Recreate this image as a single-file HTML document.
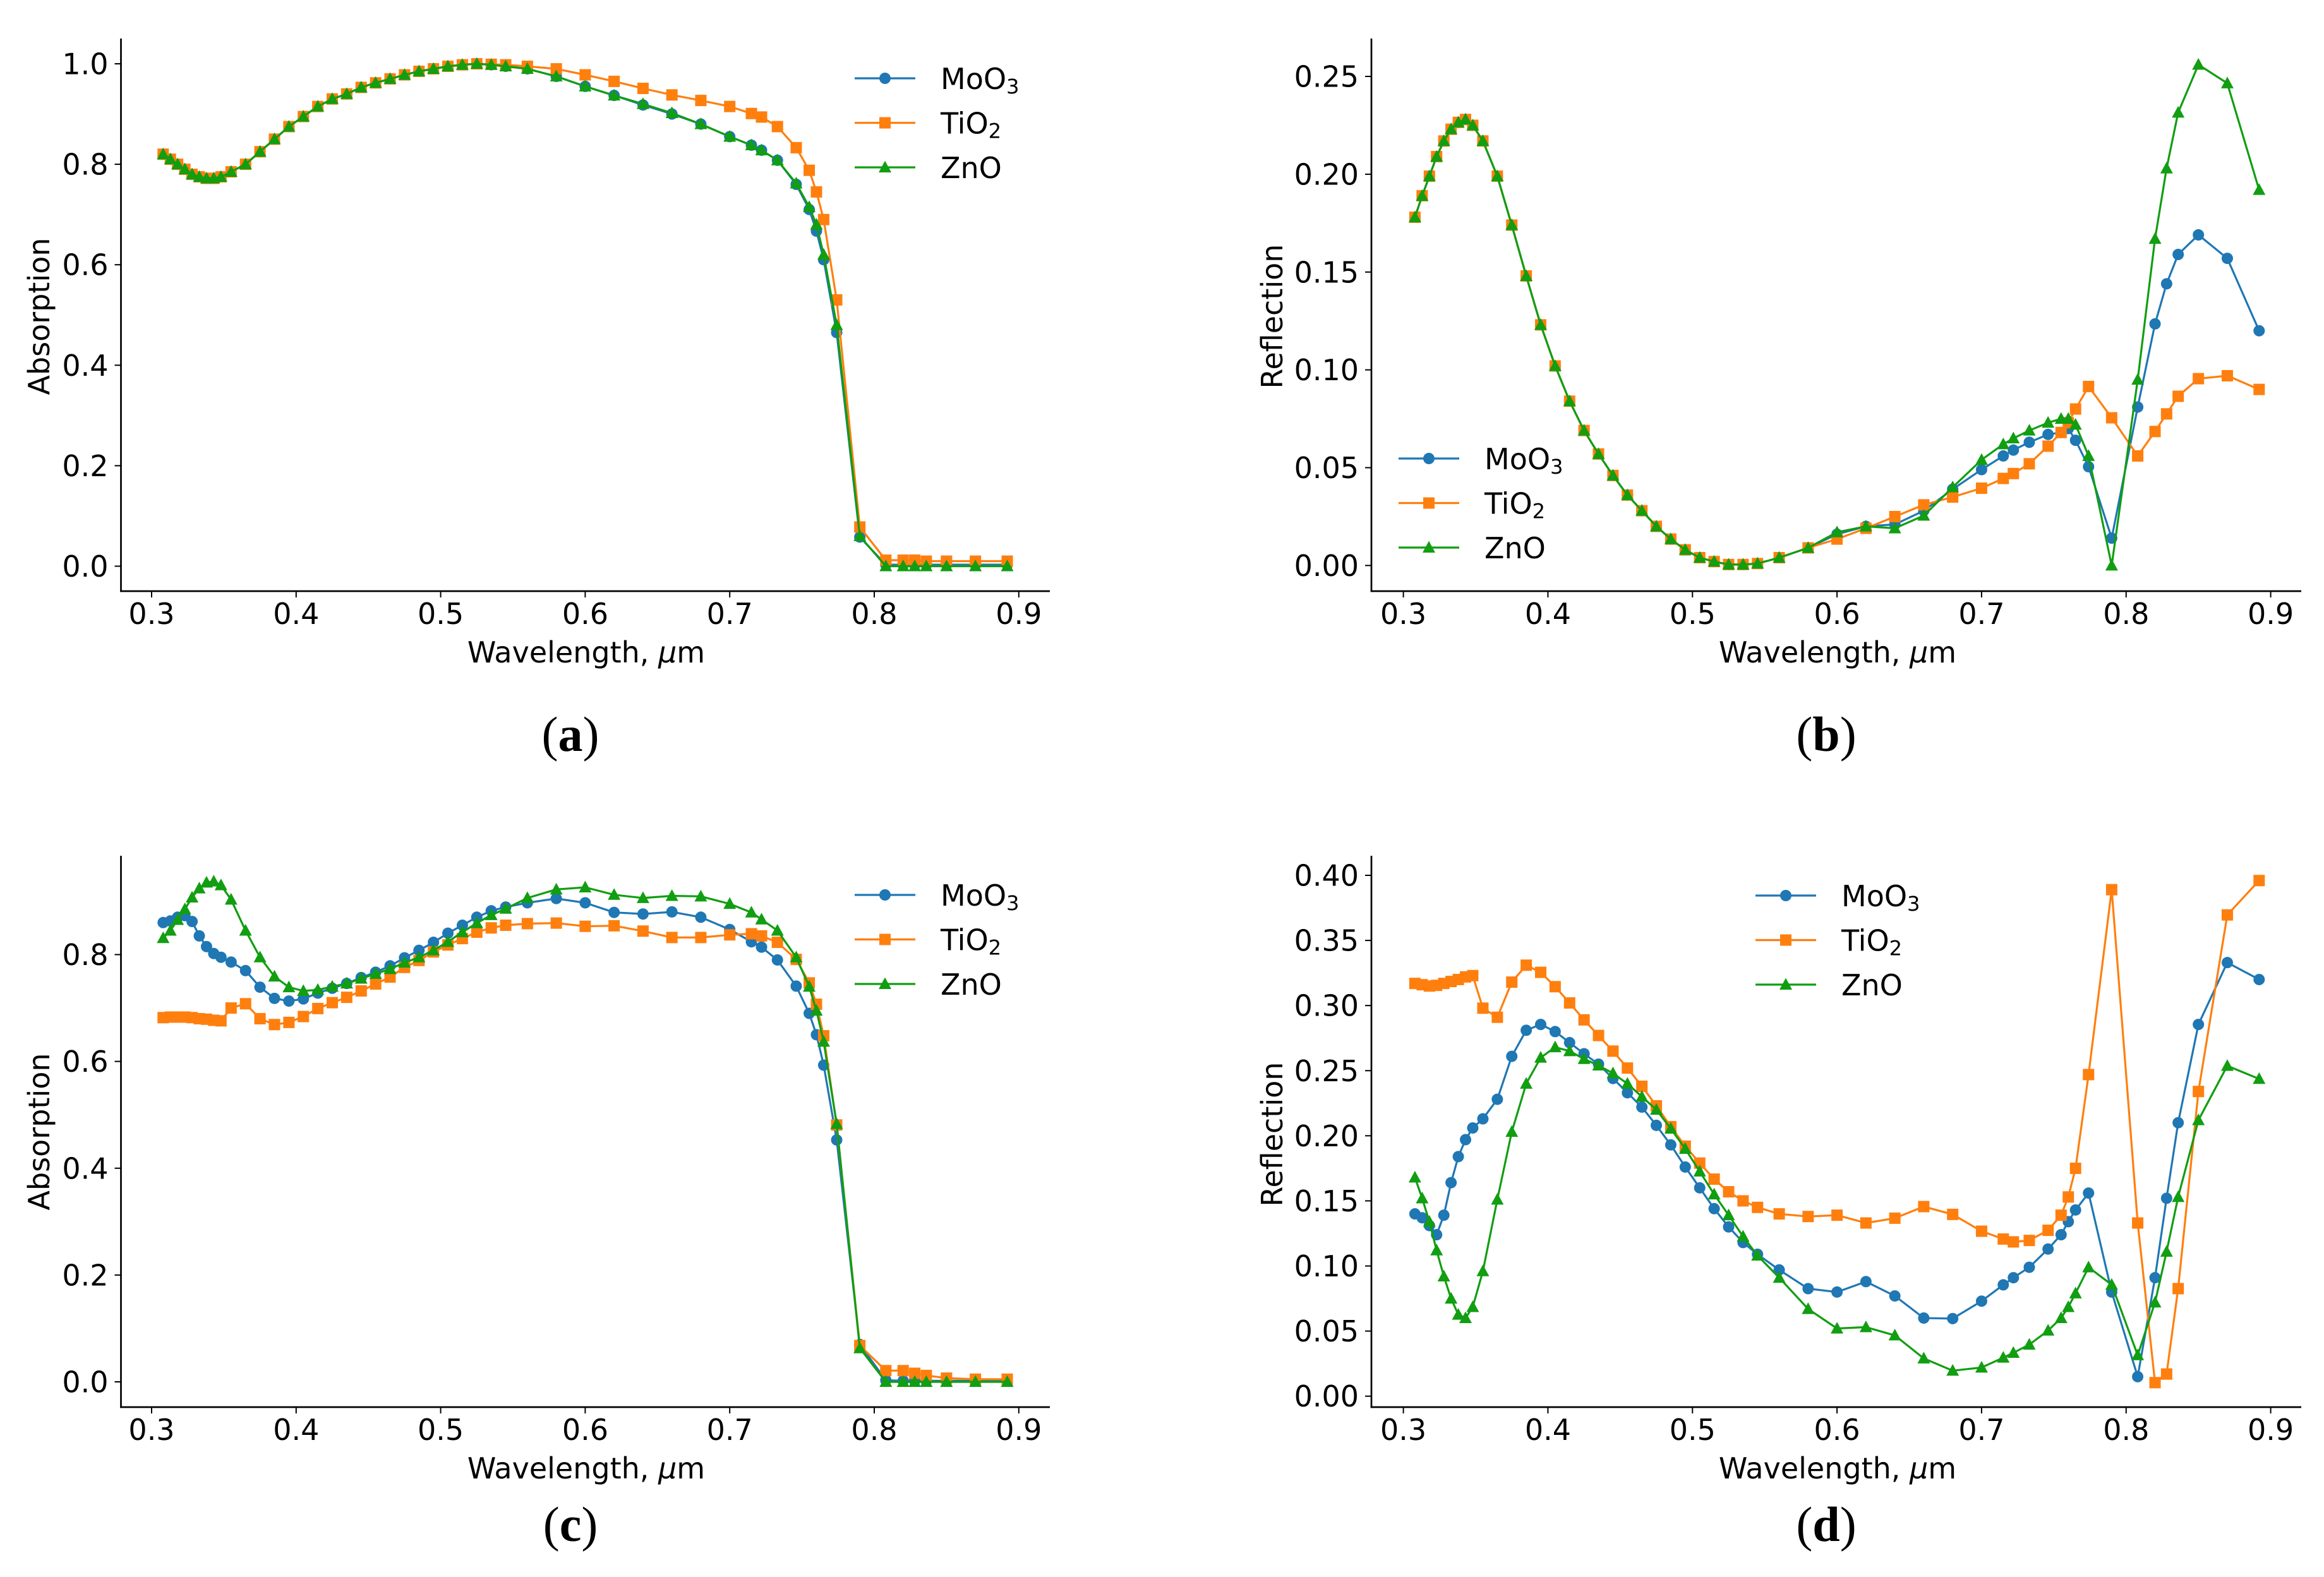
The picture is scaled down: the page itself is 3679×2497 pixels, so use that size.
<!DOCTYPE html>
<html><head><meta charset="utf-8"><style>
html,body{margin:0;padding:0;background:#fff;}
svg{display:block;}
text{font-family:"DejaVu Sans","Liberation Sans",sans-serif;fill:#000;}
</style></head><body>
<svg id="fig" width="3679" height="2497" viewBox="0 0 3679 2497" xmlns="http://www.w3.org/2000/svg"></svg>
<script>
const wavelength=[0.308,0.313,0.318,0.323,0.328,0.333,0.338,0.343,0.348,0.355,0.365,0.375,0.385,0.395,0.405,0.415,0.425,0.435,0.445,0.455,0.465,0.475,0.485,0.495,0.505,0.515,0.525,0.535,0.545,0.56,0.58,0.60,0.62,0.64,0.66,0.68,0.70,0.715,0.722,0.733,0.746,0.755,0.76,0.765,0.774,0.79,0.808,0.82,0.828,0.836,0.85,0.87,0.892];
const xTicks=[0.3,0.4,0.5,0.6,0.7,0.8,0.9];
const xTickLabels=["0.3","0.4","0.5","0.6","0.7","0.8","0.9"];
// panel a: absorption
const aMoO3=[0.82,0.81,0.80,0.79,0.78,0.775,0.772,0.772,0.775,0.785,0.80,0.825,0.85,0.875,0.895,0.915,0.93,0.94,0.953,0.962,0.97,0.978,0.985,0.99,0.995,0.998,1.0,0.998,0.995,0.99,0.975,0.955,0.937,0.918,0.90,0.88,0.855,0.838,0.828,0.808,0.76,0.71,0.667,0.61,0.465,0.058,0.003,0.003,0.003,0.003,0.003,0.003,0.003];
const aTiO2=[0.82,0.81,0.80,0.79,0.78,0.775,0.772,0.772,0.775,0.785,0.80,0.825,0.85,0.875,0.895,0.915,0.93,0.94,0.953,0.962,0.97,0.978,0.985,0.99,0.995,0.998,1.0,0.999,0.998,0.995,0.99,0.978,0.965,0.951,0.938,0.927,0.915,0.901,0.894,0.875,0.833,0.788,0.745,0.69,0.53,0.078,0.012,0.012,0.012,0.01,0.01,0.01,0.01];
const aZnO=[0.82,0.81,0.80,0.79,0.78,0.775,0.772,0.772,0.775,0.785,0.80,0.825,0.85,0.875,0.895,0.915,0.93,0.94,0.953,0.962,0.97,0.978,0.985,0.99,0.995,0.998,1.0,0.998,0.995,0.99,0.975,0.955,0.937,0.92,0.902,0.88,0.855,0.838,0.828,0.808,0.762,0.715,0.68,0.62,0.48,0.06,0,0,0,0,0,0,0];
const aYTicks=[0,0.2,0.4,0.6,0.8,1.0];
const aYTickLabels=["0.0","0.2","0.4","0.6","0.8","1.0"];
// panel b: reflection
const bBase=[0.178,0.189,0.199,0.209,0.217,0.223,0.2265,0.228,0.225,0.217,0.199,0.174,0.148,0.123,0.102,0.084,0.069,0.057,0.046,0.036,0.028,0.020,0.0135,0.008,0.004,0.002,0.0005,0.0005,0.001,0.004,0.009];
const bMoO3=bBase.concat([0.016,0.020,0.021,0.028,0.039,0.049,0.056,0.059,0.063,0.067,0.068,0.070,0.064,0.0505,0.014,0.081,0.1235,0.144,0.159,0.169,0.157,0.120]);
const bTiO2=bBase.concat([0.0135,0.019,0.025,0.031,0.035,0.0395,0.0445,0.047,0.052,0.061,0.068,0.073,0.080,0.0915,0.0755,0.056,0.0685,0.0775,0.0865,0.0955,0.097,0.090]);
const bZnO=bBase.concat([0.017,0.020,0.019,0.0255,0.040,0.054,0.062,0.065,0.069,0.073,0.075,0.075,0.072,0.056,0.0,0.095,0.167,0.203,0.2315,0.256,0.2465,0.192]);
const bYTicks=[0,0.05,0.10,0.15,0.20,0.25];
const bYTickLabels=["0.00","0.05","0.10","0.15","0.20","0.25"];
// panel c: absorption
const cMoO3=[0.86,0.863,0.87,0.873,0.862,0.835,0.815,0.802,0.795,0.786,0.77,0.739,0.718,0.713,0.717,0.728,0.737,0.746,0.757,0.767,0.779,0.794,0.808,0.823,0.84,0.855,0.87,0.882,0.889,0.897,0.905,0.897,0.879,0.876,0.88,0.87,0.847,0.824,0.814,0.79,0.741,0.69,0.65,0.593,0.453,0.07,0.003,0.002,0.002,0.002,0.002,0.002,0.002];
const cTiO2=[0.682,0.683,0.683,0.683,0.682,0.68,0.679,0.677,0.676,0.70,0.708,0.68,0.669,0.673,0.684,0.699,0.71,0.72,0.732,0.745,0.758,0.776,0.789,0.805,0.818,0.83,0.842,0.85,0.855,0.858,0.859,0.853,0.854,0.844,0.832,0.832,0.837,0.839,0.835,0.823,0.791,0.747,0.707,0.648,0.481,0.068,0.021,0.021,0.016,0.012,0.007,0.005,0.005];
const cZnO=[0.831,0.845,0.865,0.885,0.907,0.924,0.935,0.937,0.93,0.903,0.845,0.795,0.759,0.739,0.732,0.734,0.74,0.746,0.755,0.764,0.773,0.785,0.795,0.808,0.824,0.842,0.859,0.874,0.886,0.906,0.922,0.926,0.912,0.906,0.91,0.909,0.895,0.879,0.866,0.845,0.795,0.74,0.695,0.637,0.483,0.063,0,0,0,0,0,0,0];
const cYTicks=[0,0.2,0.4,0.6,0.8];
const cYTickLabels=["0.0","0.2","0.4","0.6","0.8"];
// panel d: reflection
const dMoO3=[0.140,0.137,0.131,0.124,0.139,0.164,0.184,0.197,0.206,0.213,0.228,0.261,0.281,0.2855,0.28,0.2715,0.263,0.255,0.244,0.233,0.222,0.208,0.193,0.176,0.16,0.144,0.13,0.118,0.109,0.097,0.0826,0.080,0.088,0.077,0.060,0.0596,0.073,0.0855,0.091,0.099,0.113,0.124,0.134,0.143,0.156,0.080,0.015,0.091,0.152,0.210,0.2855,0.333,0.32];
const dTiO2=[0.317,0.316,0.315,0.3155,0.317,0.3185,0.320,0.322,0.323,0.298,0.291,0.318,0.331,0.3255,0.3145,0.302,0.289,0.277,0.265,0.252,0.238,0.223,0.207,0.192,0.179,0.1667,0.157,0.15,0.145,0.14,0.138,0.139,0.133,0.1367,0.1456,0.1396,0.1267,0.1207,0.1185,0.1196,0.1274,0.139,0.153,0.175,0.247,0.389,0.133,0.0104,0.017,0.0826,0.234,0.3696,0.396];
const dZnO=[0.168,0.152,0.134,0.112,0.092,0.075,0.0626,0.060,0.0685,0.096,0.151,0.203,0.24,0.26,0.268,0.265,0.259,0.254,0.248,0.24,0.23,0.22,0.2055,0.19,0.1726,0.155,0.139,0.1226,0.108,0.091,0.067,0.052,0.053,0.0467,0.029,0.0196,0.022,0.0296,0.0333,0.0396,0.0504,0.06,0.0685,0.079,0.099,0.0856,0.0315,0.072,0.111,0.153,0.212,0.2537,0.2437];
const dYTicks=[0,0.05,0.10,0.15,0.20,0.25,0.30,0.35,0.40];
const dYTickLabels=["0.00","0.05","0.10","0.15","0.20","0.25","0.30","0.35","0.40"];

const NS="http://www.w3.org/2000/svg";
const svg=document.getElementById('fig');
const COL={MoO3:"#1f77b4",TiO2:"#ff7f0e",ZnO:"#119e11"};
function mk(tag,attrs,parent){const e=document.createElementNS(NS,tag);for(const k in attrs)e.setAttribute(k,attrs[k]);(parent||svg).appendChild(e);return e;}
function marker(g,kind,x,y,color){
  let m;
  if(kind==='MoO3'){m=mk('circle',{cx:x,cy:y,r:9,fill:color},g);}
  else if(kind==='TiO2'){m=mk('rect',{x:x-9,y:y-9,width:18,height:18,fill:color},g);}
  else {m=mk('polygon',{points:`${x},${y-10.5} ${x+10},${y+8} ${x-10},${y+8}`,fill:color},g);}
  
  
}
function label(g,x,y,parts,size,anchor){
  const t=mk('text',{x:x,y:y,'font-size':size,'text-anchor':anchor||'start'},g);
  parts.forEach(p=>{const ts=mk('tspan',{},t);ts.textContent=p.t;if(p.sub){ts.setAttribute('font-size',size*0.7);ts.setAttribute('dy',size*0.15);}});
  return t;
}
function panel(cfg){
  const g=mk('g',{});
  
  
  const xs=v=>cfg.x0+(v-0.3)/0.6*(cfg.x9-cfg.x0);
  const ys=v=>cfg.yz+(v-0)/(cfg.yt-0)*(cfg.ytp-cfg.yz);
  const sp1=mk('line',{x1:cfg.sl,y1:cfg.st,x2:cfg.sl,y2:cfg.sb+1.3,stroke:'#000','stroke-width':2.7},g);
  
  const sp2=mk('line',{x1:cfg.sl-1.3,y1:cfg.sb,x2:cfg.sr,y2:cfg.sb,stroke:'#000','stroke-width':2.7},g);
  
  xTicks.forEach((v,i)=>{
    const x=xs(v);
    const tk=mk('line',{x1:x,y1:cfg.sb,x2:x,y2:cfg.sb+10,stroke:'#000','stroke-width':2},g);
    
    const t=mk('text',{x:x,y:cfg.sb+52,'font-size':46,'text-anchor':'middle'},g);t.textContent=xTickLabels[i];
    
  });
  cfg.yTicks.forEach((v,i)=>{
    const y=ys(v);
    const tk=mk('line',{x1:cfg.sl-10,y1:y,x2:cfg.sl,y2:y,stroke:'#000','stroke-width':2},g);
    
    const t=mk('text',{x:cfg.sl-20,y:y+16.5,'font-size':46,'text-anchor':'end'},g);t.textContent=cfg.yLabels[i];
    
  });
  const xt=mk('text',{x:cfg.xtx,y:cfg.sb+113,'font-size':46,'text-anchor':'middle'},g);
  const x1=mk('tspan',{},xt);x1.textContent='Wavelength, ';
  const x2=mk('tspan',{'font-style':'italic'},xt);x2.textContent='μ';
  const x3=mk('tspan',{},xt);x3.textContent='m';
  
  const yt=mk('text',{x:0,y:0,'font-size':46,'text-anchor':'middle',transform:`translate(${cfg.ytx},${cfg.yty}) rotate(-90)`},g);
  yt.textContent=cfg.ytitle;
  
  cfg.series.forEach(s=>{
    const sg=mk('g',{},g);
    
    
    const pts=s.v.map((v,i)=>xs(wavelength[i]).toFixed(1)+','+ys(v).toFixed(1)).join(' ');
    const pl=mk('polyline',{points:pts,fill:'none',stroke:COL[s.k],'stroke-width':3.2,'stroke-linejoin':'round'},sg);
    
    s.v.forEach((v,i)=>marker(sg,s.k,xs(wavelength[i]),ys(v),COL[s.k]));
  });
  const lg=mk('g',{},g);
  
  
  const names=[[{t:'MoO'},{t:'3',sub:true}],[{t:'TiO'},{t:'2',sub:true}],[{t:'ZnO'}]];
  ['MoO3','TiO2','ZnO'].forEach((k,i)=>{
    const y=cfg.ly+i*70.5;
    const eg=mk('g',{},lg);
    
    
    mk('line',{x1:cfg.lx,y1:y,x2:cfg.lx+96,y2:y,stroke:COL[k],'stroke-width':3.2},eg);
    marker(eg,k,cfg.lx+48,y,COL[k]);
    label(eg,cfg.lx+136,y+17,names[i],46);
  });
  const pl=mk('text',{x:cfg.px,y:cfg.py,'font-size':78,'text-anchor':'middle',style:'font-family:"Liberation Serif",serif'},svg);
  const a=mk('tspan',{},pl);a.textContent='(';
  const b=mk('tspan',{'font-weight':'bold'},pl);b.textContent=cfg.letter;
  const c=mk('tspan',{},pl);c.textContent=')';
  
}
panel({name:'panel-a-absorption',letter:'a',x0:240,x9:1612.8,sl:191.5,sr:1662,st:61,sb:936,yz:896.5,yt:1.0,ytp:101,yTicks:aYTicks,yLabels:aYTickLabels,
  xtx:928,ytx:78,yty:501,ytitle:'Absorption',lx:1353,ly:124,px:903,py:1189,
  series:[{k:'MoO3',v:aMoO3},{k:'TiO2',v:aTiO2},{k:'ZnO',v:aZnO}]});
panel({name:'panel-b-reflection',letter:'b',x0:2221.6,x9:3594.6,sl:2171,sr:3643,st:61,sb:936,yz:895.4,yt:0.25,ytp:121,yTicks:bYTicks,yLabels:bYTickLabels,
  xtx:2909,ytx:2030,yty:501,ytitle:'Reflection',lx:2214,ly:726,px:2891,py:1189,
  series:[{k:'MoO3',v:bMoO3},{k:'TiO2',v:bTiO2},{k:'ZnO',v:bZnO}]});
panel({name:'panel-c-absorption',letter:'c',x0:240,x9:1612.8,sl:191.5,sr:1662,st:1355,sb:2228,yz:2188,yt:0.8,ytp:1511.5,yTicks:cYTicks,yLabels:cYTickLabels,
  xtx:928,ytx:78,yty:1792,ytitle:'Absorption',lx:1353,ly:1417,px:903,py:2440,
  series:[{k:'MoO3',v:cMoO3},{k:'TiO2',v:cTiO2},{k:'ZnO',v:cZnO}]});
panel({name:'panel-d-reflection',letter:'d',x0:2221.6,x9:3594.6,sl:2171,sr:3643,st:1355,sb:2228,yz:2210.7,yt:0.40,ytp:1386,yTicks:dYTicks,yLabels:dYTickLabels,
  xtx:2909,ytx:2030,yty:1796,ytitle:'Reflection',lx:2779,ly:1418,px:2891,py:2440,
  series:[{k:'MoO3',v:dMoO3},{k:'TiO2',v:dTiO2},{k:'ZnO',v:dZnO}]});
</script>
</body></html>
